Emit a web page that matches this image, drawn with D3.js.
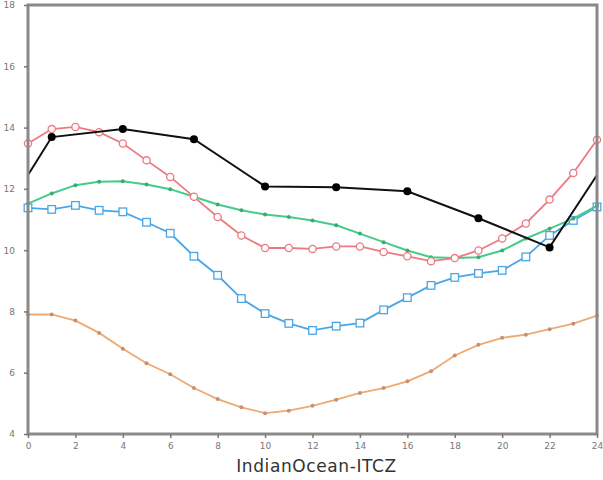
<!DOCTYPE html>
<html>
<head>
<meta charset="utf-8">
<script src="https://cdn.jsdelivr.net/npm/d3@7"></script>
<style>
  body { margin: 0; background: #fff; }
  svg { display: block; }
</style>
</head>
<body>
<div id="canvas"></div>
<script>
// hours of day
const hours = d3.range(0, 25);
const xTicks = d3.range(0, 25, 2);
const yTicks = [4, 6, 8, 10, 12, 14, 16, 18];

// 3-hourly series (edges at 0 and 24 carry no marker)
const blackHours = [0, 1, 4, 7, 10, 13, 16, 19, 22, 24];
const blackValues = [12.45, 13.69, 13.95, 13.62, 12.08, 12.05, 11.92, 11.04, 10.09, 12.45];

const redValues = [13.48, 13.95, 14.02, 13.85, 13.48, 12.93, 12.39, 11.74, 11.08, 10.48, 10.07, 10.07,
    10.04, 10.12, 10.12, 9.94, 9.80, 9.64, 9.74, 9.99, 10.38, 10.87, 11.65, 12.52, 13.6];
const greenValues = [11.52, 11.85, 12.12, 12.23, 12.25, 12.14, 11.99, 11.74, 11.49, 11.30, 11.16, 11.08,
    10.97, 10.81, 10.54, 10.26, 9.99, 9.77, 9.74, 9.77, 9.99, 10.38, 10.70, 11.03, 11.45];
const blueValues = [11.38, 11.33, 11.46, 11.30, 11.25, 10.91, 10.55, 9.80, 9.18, 8.42, 7.93, 7.61,
    7.38, 7.52, 7.62, 8.05, 8.45, 8.85, 9.11, 9.24, 9.34, 9.78, 10.48, 10.97, 11.41];
const orangeValues = [7.9, 7.9, 7.7, 7.3, 6.78, 6.31, 5.95, 5.5, 5.14, 4.87, 4.68, 4.76,
    4.92, 5.12, 5.34, 5.5, 5.72, 6.05, 6.56, 6.91, 7.14, 7.24, 7.42, 7.6, 7.86];

const title = "IndianOcean-ITCZ";

const width = 603;
const height = 480;
const margin = { top: 5, left: 28, bottom: 46, right: 6 };

const svg = d3.select("#canvas").append("svg")
    .attr("width", width)
    .attr("height", height);

const x = d3.scaleLinear()
    .domain([0, 24])
    .range([margin.left, width - margin.right]);

const y = d3.scaleLinear()
    .domain([4, 18])
    .range([height - margin.bottom, margin.top]);

const line = d3.line()
    .x((d) => x(d[0]))
    .y((d) => y(d[1]));

const pairs = (xs, vs) => xs.map((h, i) => [h, vs[i]]);

// orange
const orange = pairs(hours, orangeValues);
svg.append("path").datum(orange)
    .attr("d", line)
    .attr("fill", "none")
    .attr("stroke", "#eeaa70")
    .attr("stroke-width", 1.8);
svg.append("g").selectAll("circle").data(orange).enter().append("circle")
    .attr("cx", (d) => x(d[0]))
    .attr("cy", (d) => y(d[1]))
    .attr("r", 2)
    .attr("fill", "#c89070");

// blue
const blue = pairs(hours, blueValues);
svg.append("path").datum(blue)
    .attr("d", line)
    .attr("fill", "none")
    .attr("stroke", "#4aa6e6")
    .attr("stroke-width", 1.8);
svg.append("g").selectAll("rect").data(blue).enter().append("rect")
    .attr("x", (d) => x(d[0]) - 3.8)
    .attr("y", (d) => y(d[1]) - 3.8)
    .attr("width", 7.6)
    .attr("height", 7.6)
    .attr("fill", "#fff")
    .attr("stroke", "#4aa6e6")
    .attr("stroke-width", 1.3);

// green
const green = pairs(hours, greenValues);
svg.append("path").datum(green)
    .attr("d", line)
    .attr("fill", "none")
    .attr("stroke", "#44cc88")
    .attr("stroke-width", 2);
svg.append("g").selectAll("circle").data(green).enter().append("circle")
    .attr("cx", (d) => x(d[0]))
    .attr("cy", (d) => y(d[1]))
    .attr("r", 2)
    .attr("fill", "#3aaa78");

// red
const red = pairs(hours, redValues);
svg.append("path").datum(red)
    .attr("d", line)
    .attr("fill", "none")
    .attr("stroke", "#ec7a80")
    .attr("stroke-width", 1.8);
svg.append("g").selectAll("circle").data(red).enter().append("circle")
    .attr("cx", (d) => x(d[0]))
    .attr("cy", (d) => y(d[1]))
    .attr("r", 3.6)
    .attr("fill", "#fff")
    .attr("stroke", "#ec7a80")
    .attr("stroke-width", 1.3);

// black
const black = pairs(blackHours, blackValues);
svg.append("path").datum(black)
    .attr("d", line)
    .attr("fill", "none")
    .attr("stroke", "#111")
    .attr("stroke-width", 2);
svg.append("g").selectAll("circle")
    .data(black.filter((d) => d[0] > 0 && d[0] < 24))
    .enter().append("circle")
    .attr("cx", (d) => x(d[0]))
    .attr("cy", (d) => y(d[1]))
    .attr("r", 4)
    .attr("fill", "#000");

// frame
svg.append("rect")
    .attr("x", x(0))
    .attr("y", y(18))
    .attr("width", x(24) - x(0))
    .attr("height", y(4) - y(18))
    .attr("fill", "none")
    .attr("stroke", "#8a8a8a")
    .attr("stroke-width", 3);

// axes
const xAxis = svg.append("g")
    .attr("transform", `translate(0,${y(4)})`)
    .call(d3.axisBottom(x).tickValues(xTicks).tickSize(4).tickPadding(5));
const yAxis = svg.append("g")
    .attr("transform", `translate(${x(0)},0)`)
    .call(d3.axisLeft(y).tickValues(yTicks).tickSize(4).tickPadding(9));

[xAxis, yAxis].forEach((a) => {
    a.select(".domain").remove();
    a.selectAll(".tick line").attr("stroke", "#777").attr("stroke-width", 1.5);
    a.selectAll(".tick text")
        .attr("fill", "#777")
        .style("font-family", "DejaVu Sans, sans-serif")
        .style("font-size", "9px");
});

svg.append("text")
    .attr("x", (x(0) + x(24)) / 2 + 4)
    .attr("y", 472)
    .attr("text-anchor", "middle")
    .attr("fill", "#333")
    .style("font-family", "DejaVu Sans, sans-serif")
    .style("font-size", "17px")
    .style("letter-spacing", "0.6px")
    .text(title);
</script>
</body>
</html>
